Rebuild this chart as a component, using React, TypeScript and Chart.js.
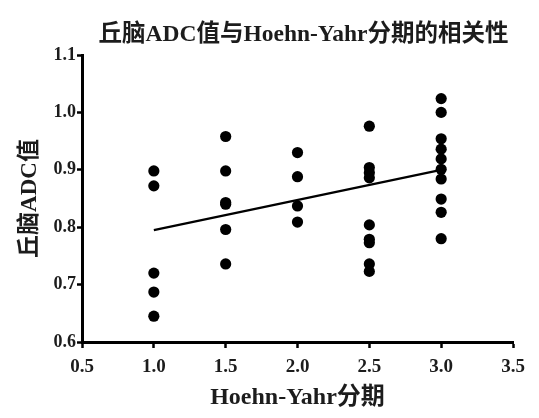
import React, { useEffect, useRef } from "react";
import { Chart, registerables } from "chart.js";

Chart.register(...registerables);

// ---- data ----
const chartTitle = "丘脑ADC值与Hoehn-Yahr分期的相关性";
const xAxisTitle = "Hoehn-Yahr分期";
const yAxisTitle = "丘脑ADC值";

const stageValues = [1.0, 1.5, 2.0, 2.5, 3.0];
const adcStage1 = [0.898, 0.872, 0.72, 0.687, 0.645];
const adcStage15 = [0.958, 0.898, 0.843, 0.84, 0.796, 0.736];
const adcStage2 = [0.93, 0.888, 0.837, 0.809];
const adcStage25 = [0.976, 0.904, 0.895, 0.886, 0.804, 0.779, 0.773, 0.736, 0.723];
const adcStage3 = [1.024, 1.0, 0.954, 0.936, 0.919, 0.901, 0.884, 0.849, 0.826, 0.78];

const fitLineX = [1.0, 3.0];
const fitLineY = [0.795, 0.9];

const xTickValues = [0.5, 1.0, 1.5, 2.0, 2.5, 3.0, 3.5];
const yTickValues = [0.6, 0.7, 0.8, 0.9, 1.0, 1.1];

const SERIF = "'Liberation Serif', 'Noto Sans CJK SC', serif";
const INK = "#1c1c1c";

export default function App() {
  const canvasRef = useRef<HTMLCanvasElement | null>(null);

  useEffect(() => {
    if (!canvasRef.current) return;
    const groups = [adcStage1, adcStage15, adcStage2, adcStage25, adcStage3];
    const points: { x: number; y: number }[] = [];
    groups.forEach((arr, i) => arr.forEach((v) => points.push({ x: stageValues[i], y: v })));
    const fit = fitLineX.map((x, i) => ({ x, y: fitLineY[i] }));

    const titlePlugin = {
      id: "customTitle",
      afterDraw(chart: any) {
        const ctx = chart.ctx;
        ctx.save();
        ctx.font = `bold 23.5px ${SERIF}`;
        ctx.fillStyle = INK;
        ctx.textAlign = "center";
        ctx.textBaseline = "middle";
        ctx.fillText(chartTitle, (chart.chartArea.left + chart.chartArea.right) / 2 + 6, 35);
        ctx.restore();
      },
    };

    const chart = new Chart(canvasRef.current, {
      type: "scatter",
      data: {
        datasets: [
          {
            data: points,
            backgroundColor: "#000",
            borderWidth: 0,
            pointRadius: 5.6,
            pointHoverRadius: 5.6,
          },
          {
            data: fit,
            showLine: true,
            borderColor: "#000",
            borderWidth: 2.2,
            pointRadius: 0,
            fill: false,
          } as any,
        ],
      },
      options: {
        animation: false,
        responsive: true,
        maintainAspectRatio: false,
        layout: { padding: { top: 55, right: 26, left: 0, bottom: 0 } },
        plugins: {
          legend: { display: false },
          tooltip: { enabled: false },
          title: { display: false },
        },
        scales: {
          x: {
            type: "linear",
            min: 0.5,
            max: 3.5,
            afterBuildTicks: (s: any) => {
              s.ticks = xTickValues.map((v) => ({ value: v }));
            },
            afterFit: (s: any) => {
              s.height = 76;
            },
            ticks: {
              callback: (v: any) => Number(v).toFixed(1),
              font: { family: SERIF, size: 19, weight: "bold" },
              color: INK,
              padding: 8,
              maxRotation: 0,
            },
            grid: {
              drawOnChartArea: false,
              drawTicks: true,
              tickLength: 6,
              tickColor: "#000",
              tickWidth: 2.5,
              color: "#000",
            },
            border: { display: true, color: "#000", width: 3 },
            title: {
              display: true,
              text: xAxisTitle,
              font: { family: SERIF, size: 24, weight: "bold" },
              color: INK,
              padding: { top: 0, bottom: 6 },
            },
          },
          y: {
            type: "linear",
            min: 0.6,
            max: 1.1,
            afterBuildTicks: (s: any) => {
              s.ticks = yTickValues.map((v) => ({ value: v }));
            },
            afterFit: (s: any) => {
              s.width = 82;
            },
            ticks: {
              callback: (v: any) => Number(v).toFixed(1),
              font: { family: SERIF, size: 18, weight: "bold" },
              color: INK,
              padding: 1,
            },
            grid: {
              drawOnChartArea: false,
              drawTicks: true,
              tickLength: 5,
              tickColor: "#000",
              tickWidth: 2.5,
              color: "#000",
            },
            border: { display: true, color: "#000", width: 3 },
            title: {
              display: true,
              text: yAxisTitle,
              font: { family: SERIF, size: 23, weight: "bold" },
              color: INK,
              padding: { top: 16, bottom: 0 },
            },
          },
        },
      },
      plugins: [titlePlugin],
    });
    return () => chart.destroy();
  }, []);

  return (
    <div style={{ position: "absolute", left: 0, top: 0, width: 539, height: 418, background: "#fff" }}>
      <canvas ref={canvasRef} />
    </div>
  );
}
